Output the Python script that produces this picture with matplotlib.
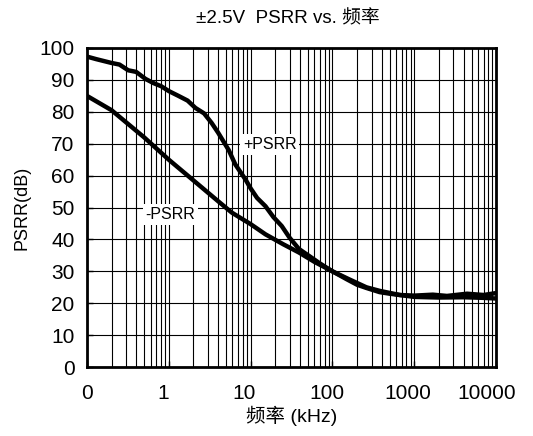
import matplotlib
matplotlib.use("Agg")
import matplotlib.pyplot as plt
from matplotlib.ticker import FixedLocator, LogLocator, NullFormatter
from matplotlib.transforms import ScaledTranslation

plt.rcParams["font.family"] = ["Liberation Sans", "Noto Sans CJK SC", "DejaVu Sans"]

# +PSRR curve (kHz, dB)
plus_freq = [0.1, 0.13, 0.2, 0.25, 0.32, 0.4, 0.52, 0.65, 0.81, 1.0, 1.31, 1.7,
             2.12, 2.7, 3.34, 4.0, 5.4, 6.5, 8.7, 10, 12, 15.2, 19, 24, 30, 39,
             52, 70, 100, 150, 200, 260, 376, 500, 661, 1000, 1683, 2500, 4400,
             7000, 10000]
plus_db = [97.3, 96.5, 95.3, 94.8, 93.0, 92.5, 90.3, 89.0, 88.0, 86.5, 85.0, 83.5,
           81.2, 79.5, 76.5, 73.5, 68.0, 63.5, 58.7, 56.0, 53.0, 50.4, 47.0, 44.2,
           40.5, 37.0, 34.8, 32.5, 30.0, 27.5, 25.8, 24.8, 23.5, 23.0, 22.6, 22.4,
           22.7, 22.3, 23.0, 22.6, 23.2]

# -PSRR curve (kHz, dB)
minus_freq = [0.1, 0.2, 0.5, 1, 2.3, 4, 5.9, 10, 15.2, 25, 39, 60, 100, 160, 260,
              376, 661, 1000, 2000, 4000, 7000, 10000]
minus_db = [85.0, 80.5, 72.0, 65.0, 57.2, 52.0, 48.4, 44.8, 41.6, 38.5, 35.9, 33.0,
            30.0, 27.5, 25.0, 23.9, 22.6, 22.0, 21.8, 21.9, 21.7, 21.5]

x_ticks = [0.1, 1, 10, 100, 1000, 10000]
x_tick_labels = ["0", "1", "10", "100", "1000", "10000"]
y_ticks = list(range(0, 101, 10))

fig = plt.figure(figsize=(5.33, 4.36), dpi=100)
ax = fig.add_axes([0.163, 0.158, 0.768, 0.732])

ax.set_xscale("log")
ax.set_xlim(0.1, 10000)
ax.set_ylim(0, 100)

ax.xaxis.set_major_locator(FixedLocator(x_ticks))
ax.set_xticklabels(x_tick_labels)
ax.xaxis.set_minor_locator(LogLocator(base=10, subs=range(2, 10), numticks=20))
ax.xaxis.set_minor_formatter(NullFormatter())
ax.set_yticks(y_ticks)

ax.grid(True, which="both", axis="x", color="black", linewidth=0.8)
ax.grid(True, which="major", axis="y", color="black", linewidth=0.8)

ax.plot(plus_freq, plus_db, color="black", linewidth=3.2, solid_capstyle="butt")
ax.plot(minus_freq, minus_db, color="black", linewidth=3.2, solid_capstyle="butt")

box = dict(facecolor="white", edgecolor="none", pad=2)
ax.text(17.2, 69.7, "+PSRR", fontsize=11.5, ha="center", va="center", bbox=box)
ax.text(1.05, 47.8, "-PSRR", fontsize=11.5, ha="center", va="center", bbox=box)

for spine in ax.spines.values():
    spine.set_linewidth(2)
ax.tick_params(axis="both", which="major", labelsize=15, direction="in",
               length=4, width=1)
ax.tick_params(axis="x", which="major", pad=12)
ax.tick_params(axis="y", which="major", pad=9)
ax.tick_params(axis="x", which="minor", length=0)

# x labels in the original sit a little left of their grid lines
shifts = [0, -6, -7, -6, -7, -10]
for label, dx in zip(ax.get_xticklabels(), shifts):
    label.set_transform(label.get_transform() + ScaledTranslation(dx / 100, 0, fig.dpi_scale_trans))

ax.set_xlabel("频率 (kHz)", fontsize=14, labelpad=2)
ax.set_ylabel("PSRR(dB)", fontsize=13, labelpad=6)
fig.text(0.54, 0.957, "±2.5V  PSRR vs. 频率", fontsize=13.5, ha="center", va="center")

fig.savefig("out.png", dpi=100)
plt.close(fig)
